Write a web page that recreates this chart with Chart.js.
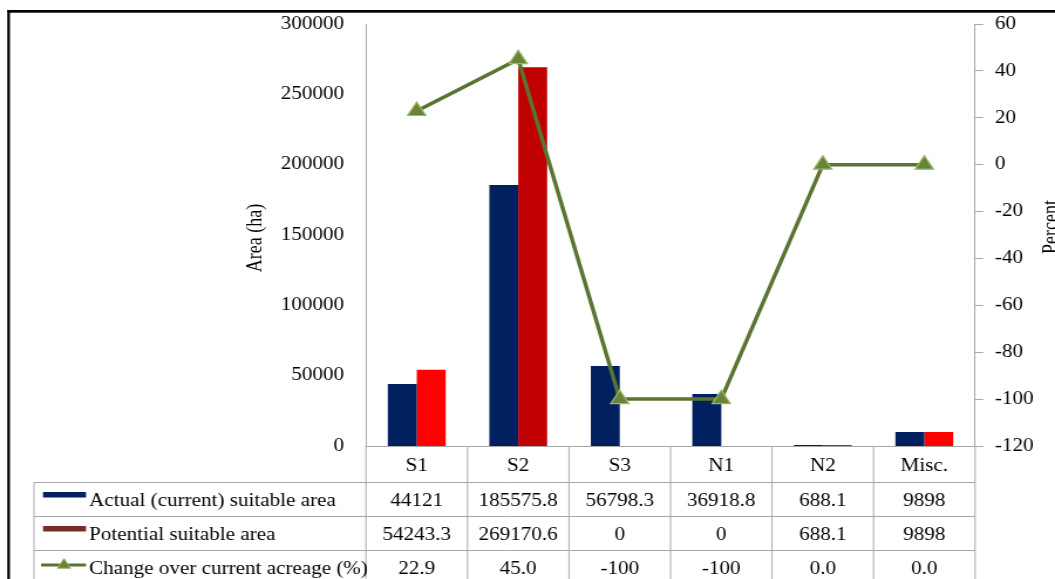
<!DOCTYPE html>
<html>
<head>
<meta charset="utf-8">
<script src="https://cdn.jsdelivr.net/npm/chart.js@4.4.1/dist/chart.umd.min.js"></script>
<style>
  html, body { margin: 0; padding: 0; background: #fff; overflow: hidden; }
  #wrap { width: 900px; height: 579px; transform: scaleX(1.17222); transform-origin: 0 0; }
  canvas { display: block; }
</style>
</head>
<body>
<div id="wrap"><canvas id="chart" width="900" height="579"></canvas></div>
<script>
// Land suitability classes and areas (ha)
const categories = ['S1', 'S2', 'S3', 'N1', 'N2', 'Misc.'];
const actualArea = [44121, 185575.8, 56798.3, 36918.8, 688.1, 9898];
const potentialArea = [54243.3, 269170.6, 0, 0, 688.1, 9898];
// Change over current acreage, as printed in the table
const changeText = ['22.9', '45.0', '-100', '-100', '0.0', '0.0'];
const changePct = changeText.map(Number);

const seriesNames = [
  'Actual (current) suitable area',
  'Potential suitable area',
  'Change over current acreage (%)'
];
const areaTicks = [0, 50000, 100000, 150000, 200000, 250000, 300000];
const pctTicks = [-120, -100, -80, -60, -40, -20, 0, 20, 40, 60];
const leftTitle = 'Area (ha)';
const rightTitle = 'Percent';

const FONT = "'Liberation Serif', 'Times New Roman', serif";
const GRID = '#A8A8A8';
const NAVY = '#002060';
const RED = '#FF0000';
const DARK_RED = '#C00000';
const MAROON = '#772C2A';
const OLIVE = '#5B7431';
const OLIVE_FILL = '#67843A';
const OLIVE_EDGE = '#9BB766';

// Frame, axis titles and the data table under the plot
const decorations = {
  id: 'decorations',
  afterDraw(chart) {
    const { ctx, chartArea: a } = chart;
    const n = categories.length;
    const w = (a.right - a.left) / n;
    const tableLeft = 29;
    const rowLines = [482, 516, 550];
    const baselines = [471, 505.5, 539.5, 573.5];
    const H = chart.height;

    ctx.save();
    // outer frame
    ctx.fillStyle = '#000';
    ctx.fillRect(6.2, 10, 2.3, H - 10);
    ctx.fillRect(6.2, 10, chart.width, 2.7);

    // table grid
    ctx.strokeStyle = GRID;
    ctx.lineWidth = 1;
    ctx.beginPath();
    ctx.moveTo(a.left, a.bottom + 0.5);
    ctx.lineTo(a.right, a.bottom + 0.5);
    for (let k = 0; k <= n; k++) {
      const x = a.left + k * w;
      ctx.moveTo(x, a.bottom);
      ctx.lineTo(x, H);
    }
    ctx.moveTo(tableLeft, rowLines[0]);
    ctx.lineTo(tableLeft, H);
    rowLines.forEach(y => {
      ctx.moveTo(tableLeft, y + 0.5);
      ctx.lineTo(a.right, y + 0.5);
    });
    ctx.stroke();

    // table text
    ctx.fillStyle = '#000';
    ctx.font = '18px ' + FONT;
    ctx.textBaseline = 'alphabetic';
    ctx.textAlign = 'center';
    const rows = [
      categories,
      actualArea.map(String),
      potentialArea.map(String),
      changeText
    ];
    rows.forEach((row, r) => {
      row.forEach((txt, i) => {
        ctx.fillText(txt, a.left + (i + 0.5) * w, baselines[r]);
      });
    });

    // series keys
    const keyL = 36.7, keyR = 73.4;
    ctx.fillStyle = NAVY;
    ctx.fillRect(keyL, 492, keyR - keyL, 5.5);
    ctx.fillStyle = MAROON;
    ctx.fillRect(keyL, 526, keyR - keyL, 5.5);
    ctx.strokeStyle = OLIVE;
    ctx.lineWidth = 3;
    ctx.beginPath();
    ctx.moveTo(35, 565);
    ctx.lineTo(keyR, 565);
    ctx.stroke();
    ctx.fillStyle = OLIVE_FILL;
    ctx.strokeStyle = OLIVE_EDGE;
    ctx.lineWidth = 1;
    Chart.helpers.drawPoint(ctx, { pointStyle: 'triangle', radius: 6.5, rotation: 0, borderWidth: 1 }, 54.6, 565);

    ctx.fillStyle = '#000';
    ctx.textAlign = 'left';
    seriesNames.forEach((name, r) => ctx.fillText(name, 76, baselines[r + 1]));

    // axis titles
    ctx.save();
    ctx.translate(223, 238);
    ctx.rotate(-Math.PI / 2);
    ctx.textAlign = 'center';
    ctx.fillText(leftTitle, 0, 0);
    ctx.restore();
    ctx.save();
    ctx.translate(901.5, 227);
    ctx.rotate(-Math.PI / 2);
    ctx.textAlign = 'center';
    ctx.fillText(rightTitle, 0, 0);
    ctx.restore();

    ctx.restore();
  }
};

// Fixed axis widths; label overflow handled by the layout padding instead
function fixAxis(width) {
  return s => {
    s.width = width;
    s.paddingTop = 0;
    s.paddingBottom = 0;
  };
}

new Chart(document.getElementById('chart'), {
  type: 'bar',
  data: {
    labels: categories,
    datasets: [
      {
        type: 'line',
        label: seriesNames[2],
        data: changePct,
        yAxisID: 'y1',
        order: 0,
        borderColor: OLIVE,
        borderWidth: 3.5,
        pointStyle: 'triangle',
        pointRadius: 9,
        pointBackgroundColor: OLIVE_FILL,
        pointBorderColor: OLIVE_EDGE,
        pointBorderWidth: 1.2,
        tension: 0,
        fill: false
      },
      {
        label: seriesNames[0],
        data: actualArea,
        yAxisID: 'y',
        order: 1,
        backgroundColor: NAVY,
        borderWidth: 0,
        categoryPercentage: 0.57,
        barPercentage: 1
      },
      {
        label: seriesNames[1],
        data: potentialArea,
        yAxisID: 'y',
        order: 1,
        backgroundColor: ctx => (ctx.dataIndex === 1 ? DARK_RED : RED),
        borderWidth: 0,
        categoryPercentage: 0.57,
        barPercentage: 1
      }
    ]
  },
  options: {
    responsive: false,
    animation: false,
    devicePixelRatio: 1,
    layout: { padding: { left: 0, right: 0, top: 24, bottom: 133 } },
    plugins: {
      legend: { display: false },
      tooltip: { enabled: false }
    },
    scales: {
      x: {
        display: false,
        offset: true
      },
      y: {
        position: 'left',
        min: 0,
        max: 300000,
        afterBuildTicks: s => { s.ticks = areaTicks.map(v => ({ value: v })); },
        afterFit: fixAxis(312.2),
        grid: { display: false, drawTicks: false },
        border: { display: true, color: GRID, width: 1 },
        ticks: {
          color: '#000',
          font: { family: FONT, size: 18 },
          padding: 18.7,
          callback: v => String(v)
        }
      },
      y1: {
        position: 'right',
        min: -120,
        max: 60,
        afterBuildTicks: s => { s.ticks = pctTicks.map(v => ({ value: v })); },
        afterFit: fixAxis(68.2),
        grid: {
          display: true,
          drawOnChartArea: false,
          drawTicks: true,
          tickLength: 7,
          color: GRID
        },
        border: { display: true, color: GRID, width: 1 },
        ticks: {
          color: '#000',
          font: { family: FONT, size: 18 },
          padding: 10,
          callback: v => String(v)
        }
      }
    }
  },
  plugins: [decorations]
});
</script>
</body>
</html>
